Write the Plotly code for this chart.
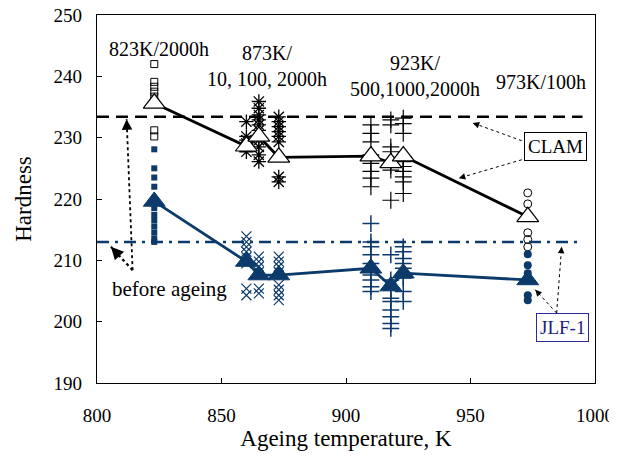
import plotly.graph_objects as go

# ---------------- data ----------------
# Mean hardness (triangles, connected)
ageing_T = [823, 860, 865, 873, 910, 918, 923, 973]
clam_mean = [235.6, 228.6, 230.2, 226.8, 227.0, 225.9, 227.0, 217.1]
jlf_mean = [219.6, 209.8, 207.6, 207.6, 208.7, 205.8, 207.9, 206.8]

# Hardness before ageing
clam_before = 233.4
jlf_before = 213.0

# Individual measurements (temperature, values)
clam_823 = [242.0, 239.1, 238.3, 237.5, 236.7, 235.9, 231.2, 230.2]
jlf_823 = [228.1, 225.0, 223.5, 222.0, 220.0, 218.5, 217.4, 216.5, 215.5, 214.5, 213.5, 213.0]

clam_860 = [232.6, 230.2, 229.6, 229.1, 228.5, 227.7]
clam_865 = [235.9, 234.8, 233.7, 232.9, 232.1, 231.2, 229.6, 228.5, 227.2, 226.1]
clam_873 = [233.4, 232.6, 231.8, 231.0, 230.2, 229.3, 223.6, 222.8]
jlf_860 = [213.9, 213.0, 212.2, 211.4, 210.5, 209.5, 205.4, 204.3]
jlf_865 = [210.6, 209.8, 209.0, 208.1, 205.4, 204.6]
jlf_873 = [210.6, 209.8, 209.0, 208.1, 206.0, 205.2, 204.3, 203.5]

clam_910 = [232.1, 230.7, 229.3, 227.2, 225.8, 224.5, 223.4, 222.0]
clam_918 = [232.9, 232.1, 228.5, 227.7, 225.5, 224.7, 219.8]
clam_923 = [233.2, 232.3, 230.7, 226.9, 226.1, 225.3, 224.5, 223.6, 222.8, 220.9]
jlf_910 = [216.0, 213.0, 212.2, 210.9, 209.5, 207.6, 206.8, 205.7, 204.9]
jlf_918 = [210.9, 206.8, 205.2, 203.8, 203.3, 201.9, 200.8, 199.7, 198.9]
jlf_923 = [212.2, 211.4, 210.3, 209.5, 208.7, 207.6, 207.1, 204.9, 203.3]

clam_973 = [221.0, 219.2, 214.5, 213.4, 212.2]
jlf_973 = [211.0, 209.2, 207.9, 204.3, 203.5]

x_ticks = [800, 850, 900, 950, 1000]
y_ticks = [190, 200, 210, 220, 230, 240, 250]

# ---------------- style ----------------
NAVY = "#0b3a6b"
FONT = "'Liberation Serif', 'Times New Roman', serif"

fig = go.Figure()


def pts(T, vals, symbol, color, size, lw=1.2, fill=None):
    fig.add_trace(go.Scatter(
        x=[T] * len(vals), y=vals, mode="markers", showlegend=False,
        marker=dict(symbol=symbol, size=size, color=fill if fill else color,
                    line=dict(color=color, width=lw)),
        hoverinfo="skip"))


# individual measurements
pts(823, clam_823, "square-open", "black", 7, 1)
pts(823, jlf_823, "square", NAVY, 6, 0)
for T, v in [(860, clam_860), (865, clam_865), (873, clam_873)]:
    pts(T, v, "asterisk-open", "black", 12, 1.3)
for T, v in [(860, jlf_860), (865, jlf_865), (873, jlf_873)]:
    pts(T, v, "x-thin-open", NAVY, 10, 1.2)
for T, v in [(910, clam_910), (918, clam_918), (923, clam_923)]:
    pts(T, v, "cross-thin-open", "black", 12, 1.2)
for T, v in [(910, jlf_910), (918, jlf_918), (923, jlf_923)]:
    pts(T, v, "cross-thin-open", NAVY, 12, 1.5)
pts(973, clam_973, "circle-open", "black", 8, 1)
pts(973, jlf_973, "circle", NAVY, 8, 0)

# before-ageing reference lines
fig.add_shape(type="line", xref="paper", x0=0, x1=0.975, yref="y",
              y0=clam_before, y1=clam_before,
              line=dict(color="black", width=2.5, dash="12px,7px"))
fig.add_shape(type="line", xref="paper", x0=0, x1=0.965, yref="y",
              y0=jlf_before, y1=jlf_before,
              line=dict(color=NAVY, width=2.5, dash="12px,6px,3px,6px"))

# mean lines
fig.add_trace(go.Scatter(
    x=ageing_T, y=clam_mean, mode="lines+markers", showlegend=False,
    line=dict(color="black", width=2.8),
    marker=dict(symbol="triangle-up", size=19, color="white",
                line=dict(color="black", width=1.2))))
fig.add_trace(go.Scatter(
    x=ageing_T, y=jlf_mean, mode="lines+markers", showlegend=False,
    line=dict(color=NAVY, width=2.8),
    marker=dict(symbol="triangle-up", size=19, color=NAVY,
                line=dict(color=NAVY, width=1))))

# ---------------- annotations ----------------
PX_X = 498 / 200.0  # px per K
PX_Y = 368 / 60.0   # px per hardness unit


def dotted_arrow(x0, y0, x1, y1, width=1.3):
    fig.add_shape(type="line", xref="x", yref="y", x0=x0, y0=y0, x1=x1, y1=y1,
                  line=dict(color="black", width=width, dash="dot"))
    dx = (x1 - x0) * PX_X
    dy = -(y1 - y0) * PX_Y
    L = (dx * dx + dy * dy) ** 0.5
    fig.add_annotation(x=x1, y=y1, ax=-dx / L * 7, ay=-dy / L * 7,
                       text="", showarrow=True, arrowhead=2, arrowsize=1,
                       arrowwidth=width + 0.3, arrowcolor="black", standoff=0)


dotted_arrow(970.6, 229.5, 950.9, 232.4, 1.0)
dotted_arrow(970.6, 226.4, 945.3, 223.4, 1.0)
dotted_arrow(984.6, 201.4, 986.6, 212.2, 1.0)
dotted_arrow(984.6, 201.4, 976.0, 205.2, 1.0)
dotted_arrow(814.3, 208.4, 811.9, 233.0, 1.8)
dotted_arrow(814.3, 208.4, 805.6, 212.2, 2.2)

txt = dict(family=FONT, size=20, color="black")
fig.add_annotation(x=824.7, y=244.4, text="823K/2000h", showarrow=False, font=txt)
fig.add_annotation(x=868.3, y=241.7, text="873K/<br>10, 100, 2000h",
                   showarrow=False, font=txt)
fig.add_annotation(x=927.7, y=240.1, text="923K/<br>500,1000,2000h",
                   showarrow=False, font=txt)
fig.add_annotation(x=978.2, y=239.1, text="973K/100h", showarrow=False, font=txt)
fig.add_annotation(x=829.3, y=205.3, text="before ageing", showarrow=False,
                   font=dict(family=FONT, size=21, color="black"))
fig.add_annotation(x=984.1, y=228.6, text="CLAM", showarrow=False,
                   font=dict(family=FONT, size=19, color="black"),
                   bordercolor="black", borderwidth=1, borderpad=3, bgcolor="white")
fig.add_annotation(x=987.0, y=199.0, text="JLF-1", showarrow=False,
                   font=dict(family=FONT, size=19, color="#1c1c80"),
                   bordercolor="#2a2aa0", borderwidth=1, borderpad=3, bgcolor="white")

# ---------------- layout ----------------
# the page body has an 8px default margin; the figure is offset accordingly
axis_common = dict(showgrid=False, zeroline=False, showline=True, linecolor="black",
                   linewidth=1.2, mirror=True, ticks="inside", ticklen=5,
                   tickcolor="black", automargin=False, ticklabeloverflow="allow",
                   tickfont=dict(family=FONT, size=19, color="black"))

fig.update_layout(
    width=609, height=452,
    margin=dict(l=89, r=22, t=7, b=77),
    plot_bgcolor="white", paper_bgcolor="white",
    xaxis=dict(range=[800, 1000], tickvals=x_ticks, ticklabelstandoff=15,
               title=dict(text="Ageing temperature, K", standoff=3,
                          font=dict(family=FONT, size=23, color="black")),
               **axis_common),
    yaxis=dict(range=[190, 250], tickvals=y_ticks, ticklabelstandoff=10,
               title=dict(text="Hardness",
                          font=dict(family=FONT, size=23, color="black")),
               **axis_common),
)

fig.write_html("out.html")
